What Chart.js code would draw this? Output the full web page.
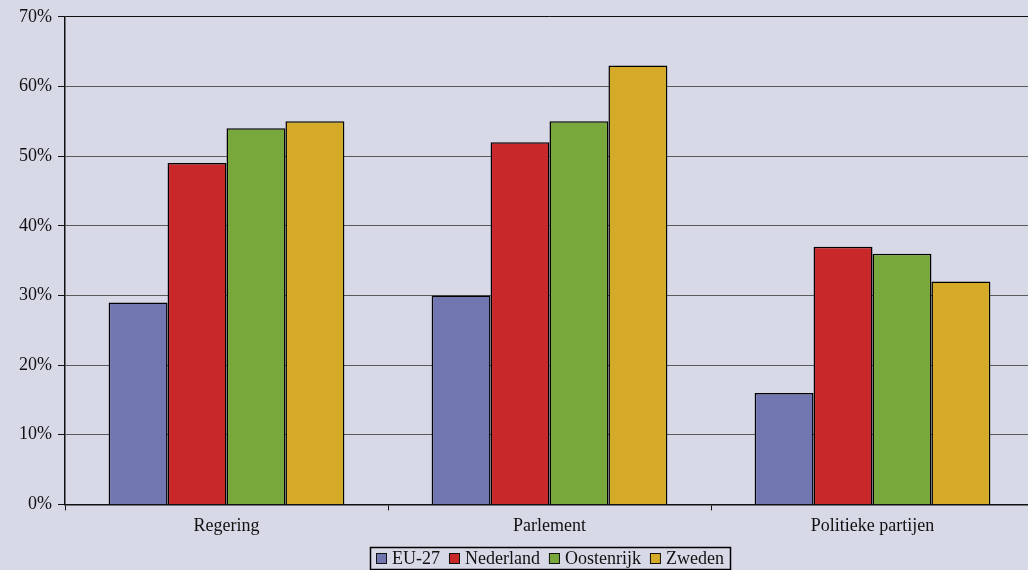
<!DOCTYPE html>
<html>
<head>
<meta charset="utf-8">
<script src="https://cdn.jsdelivr.net/npm/chart.js@4/dist/chart.umd.min.js"></script>
<style>
  html, body { margin: 0; padding: 0; background: #d7d9e7; overflow: hidden; }
  #wrap { width: 1036px; height: 570px; }
</style>
</head>
<body>
<div id="wrap"><canvas id="c" width="1036" height="570"></canvas></div>
<script>
const categories = ['Regering', 'Parlement', 'Politieke partijen'];
const seriesNames = ['EU-27', 'Nederland', 'Oostenrijk', 'Zweden'];
const eu27 = [29, 30, 16];
const nederland = [49, 52, 37];
const oostenrijk = [54, 55, 36];
const zweden = [55, 63, 32];
const yTicks = [0, 10, 20, 30, 40, 50, 60, 70];
const colors = ['#7276b0', '#c8282a', '#78a83c', '#d4aa28'];

const FONT = '"Liberation Serif", "Times New Roman", serif';
const FONT_SIZE = 18;

// Boxed legend under the axis: small square swatch, label, then the next entry.
const boxedLegend = {
  id: 'boxedLegend',
  afterDraw(chart) {
    const ctx = chart.ctx;
    const ds = chart.data.datasets;
    const sw = 11, gapText = 5, gapItem = 9, padX = 6;
    ctx.save();
    ctx.font = FONT_SIZE + 'px ' + FONT;
    const widths = ds.map(d => ctx.measureText(d.label).width);
    let total = padX * 2;
    widths.forEach((w, i) => { total += sw + gapText + w + (i < widths.length - 1 ? gapItem : 0); });
    const cx = (chart.chartArea.left + chart.chartArea.right) / 2;
    const x0 = Math.round(cx - total / 2);
    const y0 = 547, h = 22;
    const cy = y0 + h / 2;
    ctx.strokeStyle = '#000';
    ctx.lineWidth = 1.5;
    ctx.strokeRect(x0 + 0.5, y0 + 0.5, Math.round(total), h);
    let x = x0 + padX;
    ctx.textBaseline = 'middle';
    ctx.textAlign = 'left';
    ds.forEach((d, i) => {
      ctx.fillStyle = d.backgroundColor;
      ctx.fillRect(x, Math.round(cy - sw / 2), sw, sw);
      ctx.strokeStyle = '#111';
      ctx.lineWidth = 1;
      ctx.strokeRect(x + 0.5, Math.round(cy - sw / 2) + 0.5, sw - 1, sw - 1);
      x += sw + gapText;
      ctx.fillStyle = '#111';
      ctx.fillText(d.label, x, cy + 1);
      x += widths[i] + gapItem;
    });
    ctx.restore();
  }
};

const datasets = [eu27, nederland, oostenrijk, zweden].map((d, i) => ({
  label: seriesNames[i],
  data: d,
  backgroundColor: colors[i],
  borderColor: '#000',
  borderWidth: 1.5,
  borderSkipped: 'bottom',
  barPercentage: 1,
  categoryPercentage: 0.73
}));

new Chart(document.getElementById('c'), {
  type: 'bar',
  data: { labels: categories, datasets },
  plugins: [boxedLegend],
  options: {
    responsive: false,
    animation: false,
    layout: { padding: { top: 9, right: 2, left: 0, bottom: 28 } },
    plugins: {
      tooltip: { enabled: false },
      legend: { display: false }
    },
    scales: {
      x: {
        grid: { display: true, drawOnChartArea: false, offset: true, color: '#111', tickLength: 6 },
        border: { color: '#111', width: 1.5 },
        ticks: { font: { family: FONT, size: FONT_SIZE }, color: '#111', padding: 5 }
      },
      y: {
        min: 0,
        max: 70,
        afterFit(scale) { scale.width = 65; },
        afterBuildTicks(scale) { scale.ticks = yTicks.map(v => ({ value: v })); },
        grid: {
          color: ctx => (ctx.tick && ctx.tick.value === 70 ? '#111' : '#5a5a5a'),
          lineWidth: 1,
          tickLength: 7,
          tickColor: '#111'
        },
        border: { color: '#111', width: 1.5 },
        ticks: {
          font: { family: FONT, size: FONT_SIZE },
          color: '#111',
          padding: 6,
          callback: v => v + '%'
        }
      }
    }
  }
});
</script>
</body>
</html>
